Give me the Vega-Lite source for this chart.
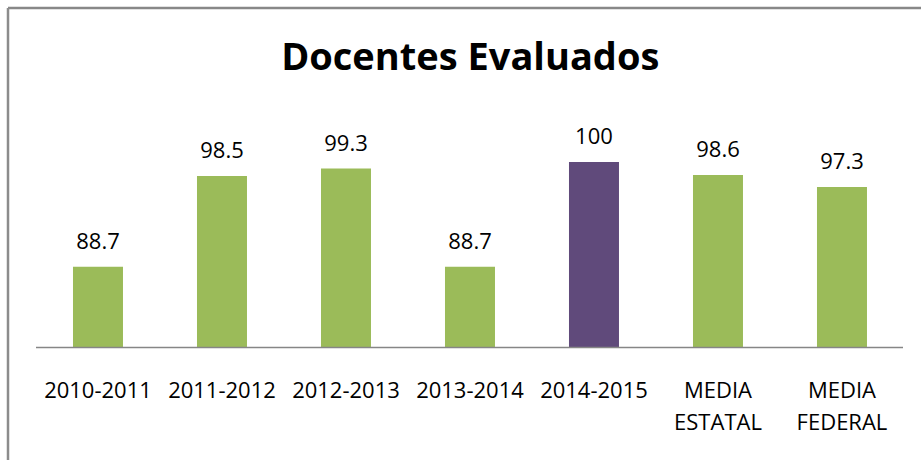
{
  "$schema": "https://vega.github.io/schema/vega-lite/v6.json",
  "autosize": {"type": "none"},
  "padding": {"left": 7.5, "top": 7.5, "right": 0, "bottom": 0},
  "width": 913.5,
  "height": 452.5,
  "background": "white",
  "title": {
    "text": "Docentes Evaluados",
    "font": "Open Sans",
    "fontSize": 38,
    "fontWeight": "bold",
    "color": "black",
    "anchor": "middle",
    "dx": 6,
    "dy": 74.5
  },
  "data": {
    "values": [
      {"periodo": "2010-2011", "valor": 88.7},
      {"periodo": "2011-2012", "valor": 98.5},
      {"periodo": "2012-2013", "valor": 99.3},
      {"periodo": "2013-2014", "valor": 88.7},
      {"periodo": "2014-2015", "valor": 100},
      {"periodo": "MEDIA ESTATAL", "valor": 98.6},
      {"periodo": "MEDIA FEDERAL", "valor": 97.3}
    ]
  },
  "layer": [
    {
      "mark": {"type": "bar"},
      "encoding": {
        "x": {
          "field": "periodo",
          "type": "nominal",
          "sort": null,
          "scale": {"type": "band", "paddingInner": 0.5968, "paddingOuter": 0.4819, "align": 0.548},
          "axis": {
            "orient": "bottom",
            "offset": -112.5,
            "title": null,
            "domain": false,
            "ticks": false,
            "tickSize": 0,
            "labelAngle": 0,
            "labelFont": "Open Sans",
            "labelFontSize": 22,
            "labelColor": "black",
            "labelBaseline": "alphabetic",
            "labelPadding": 49.5,
            "labelLineHeight": 32,
            "labelLimit": 400,
            "labelExpr": "split(datum.label, ' ')"
          }
        },
        "y": {
          "field": "valor",
          "type": "quantitative",
          "scale": {"domain": [67.87, 116.66], "nice": false, "zero": false},
          "axis": {
            "title": null,
            "labels": false,
            "ticks": false,
            "grid": false,
            "domain": true,
            "domainColor": "#8c8c8c",
            "domainWidth": 2.5
          }
        },
        "y2": {"datum": 80},
        "color": {
          "condition": {"test": "datum.periodo == '2014-2015'", "value": "#604A7B"},
          "value": "#9BBB59"
        }
      }
    },
    {
      "mark": {
        "type": "text",
        "font": "Open Sans",
        "fontSize": 22,
        "color": "black",
        "baseline": "alphabetic",
        "dy": -18
      },
      "encoding": {
        "x": {
          "field": "periodo",
          "type": "nominal",
          "sort": null,
          "scale": {"type": "band", "paddingInner": 0.5968, "paddingOuter": 0.4819, "align": 0.548},
          "axis": {
            "orient": "top",
            "title": null,
            "labels": false,
            "ticks": false,
            "grid": false,
            "domain": true,
            "domainColor": "#888888",
            "domainWidth": 2.5
          }
        },
        "y": {"field": "valor", "type": "quantitative"},
        "text": {"field": "valor", "type": "quantitative"}
      }
    },
    {
      "data": {"values": [{"inicio": 0, "fin": 1, "base": 80}]},
      "mark": {"type": "rule", "color": "#868686", "strokeWidth": 1.6},
      "encoding": {
        "x": {
          "field": "inicio",
          "type": "quantitative",
          "scale": {"domain": [-0.03287, 1.02076], "nice": false, "zero": false},
          "axis": null
        },
        "x2": {"field": "fin"},
        "y": {"field": "base", "type": "quantitative"}
      }
    }
  ],
  "resolve": {"axis": {"x": "independent"}, "scale": {"x": "independent"}},
  "config": {"view": {"stroke": null}, "axis": {"grid": false}}
}
